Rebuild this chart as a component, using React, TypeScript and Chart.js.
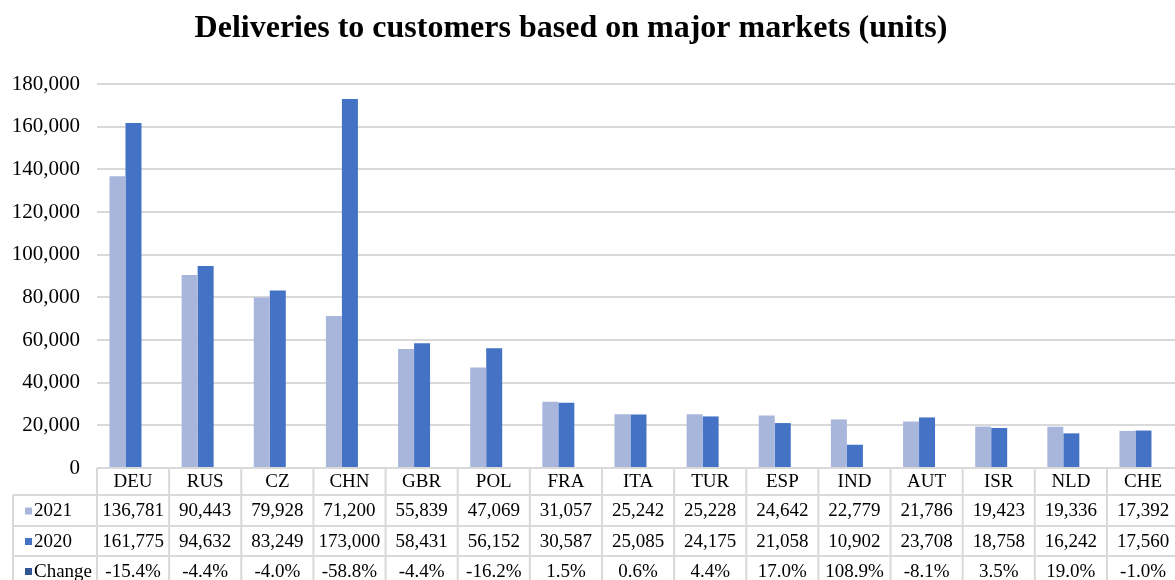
import React, { useEffect, useRef } from "react";
import { Chart, registerables } from "chart.js";

Chart.register(...registerables);

const title = "Deliveries to customers based on major markets (units)";
const categories = ["DEU", "RUS", "CZ", "CHN", "GBR", "POL", "FRA", "ITA", "TUR", "ESP", "IND", "AUT", "ISR", "NLD", "CHE"];
const seriesNames = ["2021", "2020", "Change"];
const values2021 = [136781, 90443, 79928, 71200, 55839, 47069, 31057, 25242, 25228, 24642, 22779, 21786, 19423, 19336, 17392];
const values2020 = [161775, 94632, 83249, 173000, 58431, 56152, 30587, 25085, 24175, 21058, 10902, 23708, 18758, 16242, 17560];
const changeLabels = ["-15.4%", "-4.4%", "-4.0%", "-58.8%", "-4.4%", "-16.2%", "1.5%", "0.6%", "4.4%", "17.0%", "108.9%", "-8.1%", "3.5%", "19.0%", "-1.0%"];
const yMax = 180000;
const yStep = 20000;

const COLOR_2021 = "#A9B6DC";
const COLOR_2020 = "#4472C4";
const COLOR_CHANGE = "#2F5597";
const GRID = "#D9D9D9";
const FONT = "'Liberation Serif', 'Times New Roman', serif";

const fmt = (v: number) => v.toLocaleString("en-US");

// x axis spans from before the first category to past the last one (in category units)
const X_MIN = -0.395;
const X_MAX = 14.548;
const COL_SHIFT = 0.395; // columns of the table start this far left of a bar group centre

const tablePlugin = {
  id: "dataTable",
  afterDraw(chart: any) {
    const ctx = chart.ctx;
    const area = chart.chartArea;
    const xs = chart.scales.x;
    const n = categories.length;
    const w = xs.getPixelForValue(1) - xs.getPixelForValue(0);
    const colLeft = (i: number) => xs.getPixelForValue(i - COL_SHIFT);
    const rowTops = [area.bottom, area.bottom + 27, area.bottom + 58, area.bottom + 88];
    const rowH = [27, 31, 30, 30];
    const tableLeft = 13;
    const bottom = 590;
    ctx.save();
    // title
    ctx.fillStyle = "#000";
    ctx.font = `bold 32px ${FONT}`;
    ctx.textAlign = "center";
    ctx.textBaseline = "alphabetic";
    ctx.fillText(title, 571, 37);

    ctx.strokeStyle = GRID;
    ctx.lineWidth = 2;
    ctx.beginPath();
    ctx.moveTo(area.left, rowTops[0]);
    ctx.lineTo(area.right, rowTops[0]);
    for (let r = 1; r < 4; r++) {
      ctx.moveTo(tableLeft, rowTops[r]);
      ctx.lineTo(area.right, rowTops[r]);
    }
    ctx.moveTo(tableLeft, rowTops[1]);
    ctx.lineTo(tableLeft, bottom);
    for (let i = 0; i <= n; i++) {
      const x = colLeft(i);
      if (x > area.right + 1) continue;
      ctx.moveTo(x, rowTops[0]);
      ctx.lineTo(x, bottom);
    }
    ctx.stroke();

    ctx.fillStyle = "#000";
    ctx.font = `19px ${FONT}`;
    ctx.textAlign = "center";
    ctx.textBaseline = "middle";
    const rows = [categories, values2021.map(fmt), values2020.map(fmt), changeLabels];
    rows.forEach((row, r) => {
      const cy = rowTops[r] + rowH[r] / 2 + 1;
      row.forEach((txt, i) => {
        const cx = colLeft(i) + w / 2;
        ctx.fillText(txt, cx, cy);
      });
    });
    const keyColors = [COLOR_2021, COLOR_2020, COLOR_CHANGE];
    seriesNames.forEach((name, k) => {
      const cy = rowTops[k + 1] + rowH[k + 1] / 2 + 1;
      ctx.fillStyle = keyColors[k];
      ctx.fillRect(25, cy - 4, 7, 7);
      ctx.fillStyle = "#000";
      ctx.textAlign = "left";
      ctx.fillText(name, 34, cy);
    });
    ctx.restore();
  },
};

export default function App() {
  const ref = useRef<HTMLCanvasElement | null>(null);
  useEffect(() => {
    if (!ref.current) return;
    const chart = new Chart(ref.current, {
      type: "bar",
      data: {
        datasets: [
          {
            label: seriesNames[0],
            data: values2021.map((v, i) => ({ x: i, y: v })),
            backgroundColor: COLOR_2021,
            borderWidth: 0,
          },
          {
            label: seriesNames[1],
            data: values2020.map((v, i) => ({ x: i, y: v })),
            backgroundColor: COLOR_2020,
            borderWidth: 0,
          },
        ],
      },
      options: {
        responsive: false,
        animation: false,
        devicePixelRatio: 1,
        parsing: false,
        layout: { padding: { top: 84, bottom: 112, left: 0, right: 0 } },
        datasets: { bar: { categoryPercentage: 0.4436, barPercentage: 1 } },
        plugins: {
          legend: { display: false },
          title: { display: false },
          tooltip: { enabled: false },
        },
        scales: {
          x: { type: "linear", display: false, min: X_MIN, max: X_MAX, offset: false },
          y: {
            min: 0,
            max: yMax,
            border: { display: false },
            grid: { color: GRID, lineWidth: 2, drawTicks: false },
            ticks: {
              stepSize: yStep,
              padding: 17,
              color: "#000",
              font: { family: FONT, size: 21 },
              callback: (v: any) => fmt(Number(v)),
            },
            afterFit: (scale: any) => {
              scale.width = 97;
            },
          },
        },
      },
      plugins: [tablePlugin],
    });
    return () => chart.destroy();
  }, []);
  return (
    <div style={{ position: "fixed", left: 0, top: 0, width: 1175, height: 580, background: "#fff" }}>
      <canvas ref={ref} width={1175} height={580} style={{ display: "block" }} />
    </div>
  );
}
